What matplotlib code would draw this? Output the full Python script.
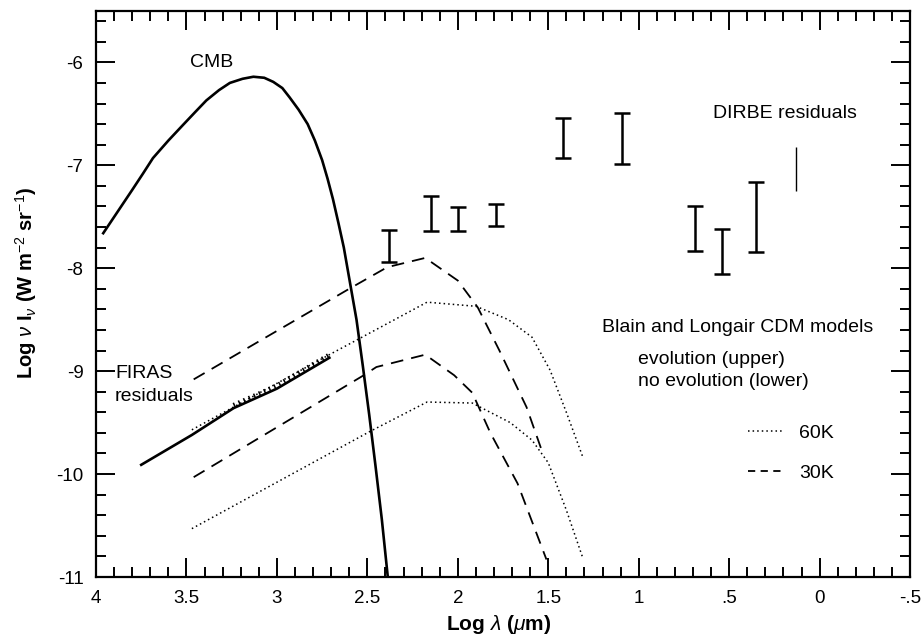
import matplotlib
matplotlib.use('Agg')
import matplotlib.pyplot as plt
from matplotlib.lines import Line2D
from matplotlib.ticker import MultipleLocator, FixedLocator, FixedFormatter

plt.rcParams['font.family'] = ['Liberation Sans', 'DejaVu Sans']
plt.rcParams['mathtext.fontset'] = 'custom'
plt.rcParams['mathtext.rm'] = 'Liberation Sans'
plt.rcParams['mathtext.it'] = 'Liberation Sans:italic'
plt.rcParams['mathtext.bf'] = 'Liberation Sans:bold'
plt.rcParams['axes.unicode_minus'] = False

# CMB spectrum (log lambda, log nu I_nu)
cmb_x = [3.96, 3.88, 3.80, 3.74, 3.685, 3.60, 3.52, 3.45, 3.39, 3.32, 3.26, 3.19, 3.13, 3.07, 3.02,
         2.97, 2.93, 2.88, 2.83, 2.79, 2.75, 2.72, 2.69, 2.66, 2.63, 2.60, 2.56, 2.525, 2.49, 2.455, 2.42, 2.387]
cmb_y = [-7.66, -7.45, -7.24, -7.08, -6.93, -6.76, -6.61, -6.48, -6.37, -6.27, -6.20, -6.16, -6.14, -6.15, -6.19,
         -6.25, -6.34, -6.46, -6.60, -6.76, -6.95, -7.13, -7.33, -7.56, -7.80, -8.10, -8.50, -8.95, -9.42, -9.92, -10.44, -11.0]

# FIRAS residuals
firas_x = [3.75, 3.47, 3.24, 3.00, 2.71]
firas_y = [-9.91, -9.62, -9.36, -9.17, -8.87]

# Blain & Longair CDM models
evo60_x = [3.47, 2.71, 2.54, 2.17, 1.90, 1.72, 1.59, 1.49, 1.40, 1.31]
evo60_y = [-9.57, -8.84, -8.68, -8.33, -8.37, -8.50, -8.67, -8.99, -9.40, -9.83]
noevo60_x = [3.47, 2.49, 2.17, 1.92, 1.71, 1.59, 1.50, 1.40, 1.31]
noevo60_y = [-10.53, -9.59, -9.30, -9.31, -9.50, -9.67, -9.89, -10.35, -10.81]
evo30_x = [3.46, 2.61, 2.39, 2.18, 2.00, 1.89, 1.77, 1.62, 1.53]
evo30_y = [-9.08, -8.21, -7.99, -7.90, -8.12, -8.38, -8.80, -9.35, -9.80]
noevo30_x = [3.46, 2.52, 2.45, 2.18, 2.02, 1.92, 1.82, 1.67, 1.51]
noevo30_y = [-10.03, -9.04, -8.96, -8.84, -9.04, -9.21, -9.60, -10.09, -10.83]

# DIRBE residuals: position, lower and upper limits
dirbe_x = [2.38, 2.15, 2.00, 1.79, 1.42, 1.09, 0.69, 0.54, 0.35]
dirbe_lo = [-7.94, -7.64, -7.64, -7.59, -6.93, -6.99, -7.83, -8.06, -7.84]
dirbe_hi = [-7.63, -7.30, -7.41, -7.38, -6.54, -6.49, -7.40, -7.62, -7.16]
dirbe_nocap_x = [0.13]
dirbe_nocap_lo = [-7.25]
dirbe_nocap_hi = [-6.82]

xticks = [4, 3.5, 3, 2.5, 2, 1.5, 1, 0.5, 0, -0.5]
xticklabels = ['4', '3.5', '3', '2.5', '2', '1.5', '1', '.5', '0', '-.5']
yticks = [-11, -10, -9, -8, -7, -6]

fig = plt.figure(figsize=(9.23, 6.39), dpi=100)
ax = fig.add_axes([0.104, 0.097, 0.882, 0.886])

dash = (0, (7, 4.5))
dot = (0, (1, 2.0))

ax.plot(cmb_x, cmb_y, color='black', lw=1.9)
ax.plot(firas_x, firas_y, color='black', lw=1.9)
# hatched error ticks along the FIRAS band
ax.plot(firas_x[2:], [v + 0.03 for v in firas_y[2:]], color='black', lw=3.2, linestyle=(0, (0.35, 0.9)))

ax.plot(evo60_x, evo60_y, color='black', lw=1.1, linestyle=dot)
ax.plot(noevo60_x, noevo60_y, color='black', lw=1.1, linestyle=dot)
ax.plot(evo30_x, evo30_y, color='black', lw=1.3, linestyle=dash)
ax.plot(noevo30_x, noevo30_y, color='black', lw=1.3, linestyle=dash)

mid = [(a + b) / 2 for a, b in zip(dirbe_lo, dirbe_hi)]
err = [(b - a) / 2 for a, b in zip(dirbe_lo, dirbe_hi)]
ax.errorbar(dirbe_x, mid, yerr=err, fmt='none', ecolor='black', elinewidth=1.8, capsize=5.5, capthick=1.8)
ax.vlines(dirbe_nocap_x, dirbe_nocap_lo, dirbe_nocap_hi, color='black', lw=1.0)

ax.set_xlim(4, -0.5)
ax.set_ylim(-11, -5.5)
ax.xaxis.set_major_locator(FixedLocator(xticks))
ax.xaxis.set_major_formatter(FixedFormatter(xticklabels))
ax.xaxis.set_minor_locator(MultipleLocator(0.1))
ax.yaxis.set_major_locator(FixedLocator(yticks))
ax.yaxis.set_minor_locator(MultipleLocator(0.2))
ax.tick_params(which='both', direction='in', top=True, right=True, width=1.4, labelsize=13.5)
ax.tick_params(which='major', length=14, pad=9)
ax.tick_params(which='minor', length=7.5)
for s in ax.spines.values():
    s.set_linewidth(1.6)

ax.set_xlabel(r'Log $\lambda$ ($\mu$m)', fontsize=15, fontweight='bold')
ax.xaxis.set_label_coords(0.495, -0.063)
ax.set_ylabel(r'Log $\nu$ I$_\nu$ (W m$^{-2}$ sr$^{-1}$)', fontsize=14.5, fontweight='bold')
ax.yaxis.set_label_coords(-0.070, 0.52)

fs = 14
ax.text(3.36, -6.0, 'CMB', fontsize=fs, ha='center', va='center')
ax.text(0.59, -6.50, 'DIRBE residuals', fontsize=fs, ha='left', va='center')
ax.text(3.895, -9.02, 'FIRAS', fontsize=fs, ha='left', va='center')
ax.text(3.895, -9.25, 'residuals', fontsize=fs, ha='left', va='center')
ax.text(1.205, -8.58, 'Blain and Longair CDM models', fontsize=fs, ha='left', va='center')
ax.text(1.005, -8.89, 'evolution (upper)', fontsize=fs, ha='left', va='center')
ax.text(1.005, -9.10, 'no evolution (lower)', fontsize=fs, ha='left', va='center')

handles = [Line2D([], [], color='black', lw=1.1, linestyle=dot),
           Line2D([], [], color='black', lw=1.3, linestyle=(0, (4, 3)))]
ax.legend(handles, ['60K', '30K'], frameon=False, fontsize=fs, handlelength=1.7,
          handletextpad=0.9, labelspacing=1.15, loc='upper left',
          bbox_to_anchor=(0.78, 0.30))

fig.savefig('out.png', dpi=100)
